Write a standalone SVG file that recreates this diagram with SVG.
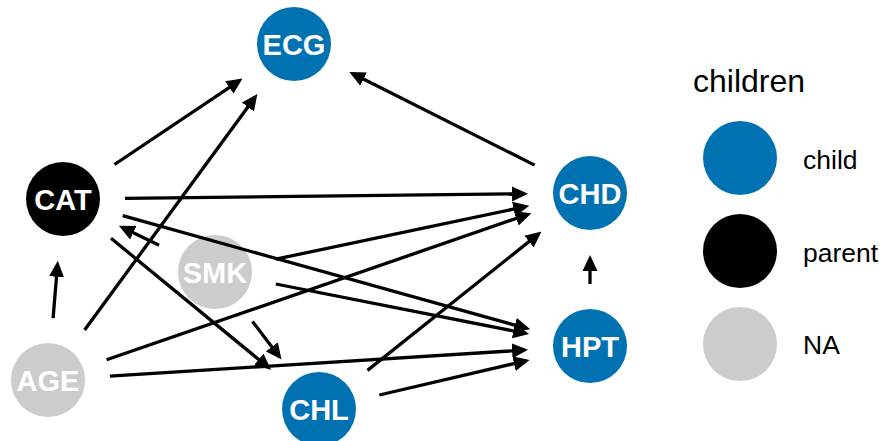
<svg xmlns="http://www.w3.org/2000/svg" width="884" height="441" viewBox="0 0 884 441">
  <defs>
    <marker id="arrow" markerUnits="userSpaceOnUse" markerWidth="16" markerHeight="16" refX="12" refY="8" orient="auto">
      <path d="M0,0.5 L16,8 L0,15.5 z" fill="#000"/>
    </marker>
  </defs>
  <style>
    .node-label { font-family: "Liberation Sans", Arial, sans-serif; font-weight: bold; font-size: 29px; fill: #fff; text-anchor: middle; }
    .child { fill: #0072B2; }
    .parent { fill: #000000; }
    .na { fill: #CCCCCC; }
    .edge { stroke: #000; stroke-width: 3.3; fill: none; marker-end: url(#arrow); }
    .legend-title { font-family: "Liberation Sans", Arial, sans-serif; font-size: 32px; fill: #000; }
    .legend-label { font-family: "Liberation Sans", Arial, sans-serif; font-size: 26.5px; fill: #000; }
  </style>
  <rect width="884" height="441" fill="#fff"/>

  <!-- nodes -->
  <g id="node-ECG"><circle class="child" cx="294" cy="44" r="37"/><text class="node-label" x="294" y="54.5">ECG</text></g>
  <g id="node-CAT"><circle class="parent" cx="63" cy="199" r="37"/><text class="node-label" x="63" y="209.5">CAT</text></g>
  <g id="node-CHD"><circle class="child" cx="590" cy="193" r="37"/><text class="node-label" x="590" y="203.5">CHD</text></g>
  <g id="node-SMK"><circle class="na" cx="215" cy="272" r="37"/><text class="node-label" x="215" y="282.5">SMK</text></g>
  <g id="node-HPT"><circle class="child" cx="590" cy="346" r="37"/><text class="node-label" x="590" y="356.5">HPT</text></g>
  <g id="node-AGE"><circle class="na" cx="48" cy="380" r="37"/><text class="node-label" x="48" y="390.5">AGE</text></g>
  <g id="node-CHL"><circle class="child" cx="319" cy="409" r="37"/><text class="node-label" x="319" y="419.5">CHL</text></g>

  <!-- directed edges -->
  <g id="edges">
    <line class="edge" x1="114.5" y1="164.5" x2="239.2" y2="80.8"/>
    <line class="edge" x1="84.6" y1="330.0" x2="255.0" y2="97.3"/>
    <line class="edge" x1="534.6" y1="165.1" x2="352.9" y2="73.7"/>
    <line class="edge" x1="125.0" y1="198.3" x2="524.0" y2="193.75"/>
    <line class="edge" x1="122.7" y1="215.7" x2="526.4" y2="328.3"/>
    <line class="edge" x1="111.0" y1="238.3" x2="268.0" y2="367.1"/>
    <line class="edge" x1="159.1" y1="245.2" x2="122.5" y2="227.6"/>
    <line class="edge" x1="53.1" y1="318.2" x2="57.5" y2="264.8"/>
    <line class="edge" x1="106.6" y1="359.8" x2="527.6" y2="214.5"/>
    <line class="edge" x1="109.9" y1="376.1" x2="524.1" y2="350.1"/>
    <line class="edge" x1="275.7" y1="259.2" x2="525.4" y2="206.6"/>
    <line class="edge" x1="275.8" y1="284.0" x2="525.2" y2="333.2"/>
    <line class="edge" x1="252.5" y1="321.4" x2="279.1" y2="356.4"/>
    <line class="edge" x1="367.5" y1="370.4" x2="538.4" y2="234.1"/>
    <line class="edge" x1="379.4" y1="395.0" x2="525.7" y2="360.9"/>
    <line class="edge" x1="590" y1="284" x2="590" y2="259"/>
  </g>

  <!-- legend -->
  <g id="legend">
    <text class="legend-title" x="693" y="92">children</text>
    <circle class="child" cx="740" cy="158" r="37"/>
    <text class="legend-label" x="803" y="169">child</text>
    <circle class="parent" cx="740" cy="251" r="37"/>
    <text class="legend-label" x="803" y="262">parent</text>
    <circle class="na" cx="740" cy="344" r="37"/>
    <text class="legend-label" x="803" y="354">NA</text>
  </g>
</svg>
